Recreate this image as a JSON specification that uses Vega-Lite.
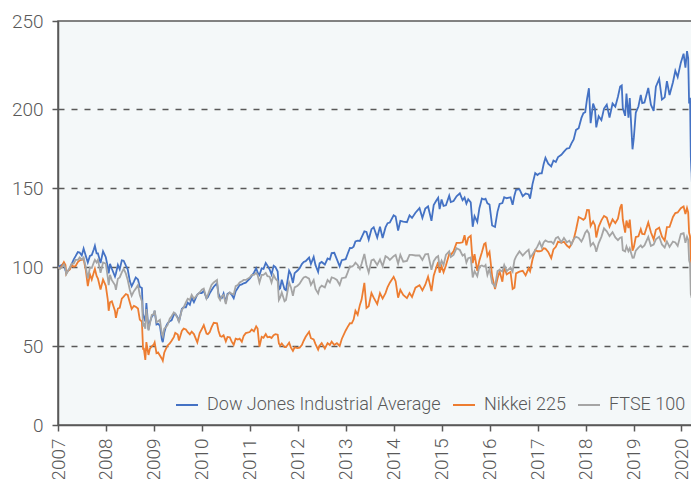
{
"$schema": "https://vega.github.io/schema/vega-lite/v6.json",
"width": 634, "height": 404,
"autosize": {"type": "none"},
"padding": {"left": 58, "top": 21, "right": 0, "bottom": 54},
"background": "white",
"config": {"view": {"fill": "#f4f8f9", "stroke": "#595959", "strokeWidth": 1.5}},
"data": {"values": [
{"d":"2007-01-02","D":100.0,"N":100.0,"F":100.0},
{"d":"2007-01-15","D":100.7,"N":99.1,"F":98.9},
{"d":"2007-02-01","D":101.6,"N":101.1,"F":100.0},
{"d":"2007-02-15","D":102.3,"N":103.2,"F":101.7},
{"d":"2007-02-27","D":97.9,"N":101.4,"F":99.4},
{"d":"2007-03-05","D":96.6,"N":95.9,"F":95.6},
{"d":"2007-03-15","D":97.5,"N":97.4,"F":97.1},
{"d":"2007-04-01","D":99.0,"N":98.5,"F":99.8},
{"d":"2007-04-15","D":102.0,"N":101.4,"F":102.2},
{"d":"2007-05-01","D":105.0,"N":100.3,"F":102.2},
{"d":"2007-05-15","D":107.0,"N":100.8,"F":104.6},
{"d":"2007-06-01","D":109.6,"N":103.2,"F":104.6},
{"d":"2007-06-15","D":109.3,"N":104.3,"F":106.2},
{"d":"2007-07-01","D":107.4,"N":104.6,"F":104.8},
{"d":"2007-07-15","D":111.8,"N":105.2,"F":106.2},
{"d":"2007-08-01","D":107.1,"N":98.0,"F":99.8},
{"d":"2007-08-16","D":103.0,"N":88.0,"F":92.9},
{"d":"2007-09-01","D":107.1,"N":95.5,"F":99.8},
{"d":"2007-09-15","D":107.7,"N":92.2,"F":99.5},
{"d":"2007-10-01","D":111.4,"N":96.8,"F":103.0},
{"d":"2007-10-09","D":113.6,"N":98.9,"F":104.6},
{"d":"2007-10-22","D":108.7,"N":94.5,"F":103.0},
{"d":"2007-11-01","D":108.7,"N":92.8,"F":104.6},
{"d":"2007-11-21","D":102.6,"N":85.9,"F":96.4},
{"d":"2007-12-10","D":110.1,"N":92.2,"F":103.0},
{"d":"2007-12-31","D":106.3,"N":88.2,"F":102.3},
{"d":"2008-01-15","D":100.2,"N":79.5,"F":93.5},
{"d":"2008-01-22","D":96.0,"N":72.4,"F":88.7},
{"d":"2008-02-01","D":102.1,"N":77.8,"F":95.1},
{"d":"2008-02-15","D":99.0,"N":78.4,"F":91.8},
{"d":"2008-03-10","D":94.1,"N":72.2,"F":88.7},
{"d":"2008-03-17","D":96.0,"N":67.9,"F":85.7},
{"d":"2008-04-01","D":101.4,"N":73.8,"F":92.7},
{"d":"2008-04-15","D":98.6,"N":74.3,"F":93.5},
{"d":"2008-05-01","D":104.3,"N":80.1,"F":96.7},
{"d":"2008-05-15","D":104.1,"N":81.3,"F":99.0},
{"d":"2008-06-01","D":101.0,"N":83.0,"F":95.9},
{"d":"2008-06-15","D":98.6,"N":82.4,"F":91.9},
{"d":"2008-07-01","D":91.2,"N":77.6,"F":85.6},
{"d":"2008-07-15","D":87.9,"N":73.5,"F":81.9},
{"d":"2008-08-01","D":90.8,"N":75.5,"F":84.8},
{"d":"2008-08-15","D":93.5,"N":74.9,"F":86.4},
{"d":"2008-09-01","D":92.2,"N":73.8,"F":88.7},
{"d":"2008-09-15","D":87.5,"N":66.8,"F":82.4},
{"d":"2008-10-01","D":86.8,"N":65.5,"F":78.4},
{"d":"2008-10-10","D":67.7,"N":47.7,"F":62.3},
{"d":"2008-10-15","D":68.8,"N":48.8,"F":64.7},
{"d":"2008-10-27","D":65.6,"N":41.3,"F":61.0},
{"d":"2008-11-04","D":77.2,"N":52.5,"F":73.5},
{"d":"2008-11-20","D":60.5,"N":44.4,"F":59.9},
{"d":"2008-12-01","D":65.3,"N":48.4,"F":64.3},
{"d":"2008-12-15","D":68.6,"N":49.9,"F":69.7},
{"d":"2008-12-31","D":70.4,"N":51.1,"F":70.3},
{"d":"2009-01-06","D":72.3,"N":52.3,"F":72.6},
{"d":"2009-01-20","D":63.7,"N":45.5,"F":65.0},
{"d":"2009-02-01","D":64.1,"N":46.0,"F":65.8},
{"d":"2009-02-15","D":62.9,"N":44.1,"F":66.6},
{"d":"2009-03-02","D":54.2,"N":42.0,"F":57.5},
{"d":"2009-03-09","D":52.5,"N":40.7,"F":56.1},
{"d":"2009-03-20","D":58.4,"N":45.8,"F":61.0},
{"d":"2009-04-01","D":62.2,"N":48.1,"F":61.8},
{"d":"2009-04-15","D":64.4,"N":50.4,"F":63.4},
{"d":"2009-05-01","D":65.8,"N":51.7,"F":67.4},
{"d":"2009-05-15","D":66.3,"N":53.4,"F":68.9},
{"d":"2009-06-01","D":69.9,"N":55.7,"F":71.3},
{"d":"2009-06-12","D":70.5,"N":58.4,"F":70.4},
{"d":"2009-07-01","D":68.1,"N":57.3,"F":67.4},
{"d":"2009-07-10","D":65.3,"N":53.5,"F":65.5},
{"d":"2009-08-01","D":73.5,"N":59.6,"F":72.9},
{"d":"2009-08-15","D":74.7,"N":61.1,"F":74.5},
{"d":"2009-09-01","D":74.6,"N":60.5,"F":77.7},
{"d":"2009-09-15","D":77.6,"N":58.8,"F":80.0},
{"d":"2009-10-01","D":76.2,"N":57.5,"F":79.2},
{"d":"2009-10-15","D":80.6,"N":59.1,"F":82.4},
{"d":"2009-11-01","D":77.8,"N":57.6,"F":80.0},
{"d":"2009-11-27","D":82.7,"N":52.3,"F":82.4},
{"d":"2009-12-15","D":83.8,"N":58.2,"F":84.0},
{"d":"2009-12-31","D":83.6,"N":60.8,"F":85.8},
{"d":"2010-01-15","D":85.1,"N":63.3,"F":86.4},
{"d":"2010-02-05","D":80.2,"N":57.9,"F":80.2},
{"d":"2010-02-15","D":81.0,"N":57.6,"F":82.4},
{"d":"2010-03-01","D":83.4,"N":58.8,"F":85.6},
{"d":"2010-03-15","D":85.4,"N":61.9,"F":88.7},
{"d":"2010-04-01","D":87.6,"N":64.8,"F":90.3},
{"d":"2010-04-26","D":89.8,"N":64.5,"F":91.9},
{"d":"2010-05-07","D":83.2,"N":59.7,"F":81.1},
{"d":"2010-05-20","D":80.7,"N":56.4,"F":79.1},
{"d":"2010-06-01","D":80.4,"N":55.9,"F":81.6},
{"d":"2010-06-15","D":83.4,"N":56.9,"F":82.4},
{"d":"2010-07-02","D":77.7,"N":53.0,"F":76.7},
{"d":"2010-07-15","D":83.1,"N":55.8,"F":82.4},
{"d":"2010-08-01","D":83.9,"N":55.6,"F":84.0},
{"d":"2010-08-15","D":82.6,"N":53.0,"F":83.2},
{"d":"2010-08-31","D":80.3,"N":50.8,"F":82.7},
{"d":"2010-09-15","D":84.7,"N":54.7,"F":88.0},
{"d":"2010-10-01","D":86.8,"N":54.2,"F":88.7},
{"d":"2010-10-15","D":88.7,"N":54.7,"F":90.3},
{"d":"2010-11-01","D":89.1,"N":52.7,"F":91.1},
{"d":"2010-11-15","D":89.8,"N":56.5,"F":91.9},
{"d":"2010-12-01","D":90.2,"N":58.2,"F":91.9},
{"d":"2010-12-31","D":92.8,"N":58.9,"F":93.5},
{"d":"2011-01-15","D":94.5,"N":60.5,"F":95.1},
{"d":"2011-02-01","D":96.5,"N":59.4,"F":95.1},
{"d":"2011-02-18","D":99.3,"N":62.5,"F":96.4},
{"d":"2011-03-01","D":96.7,"N":61.1,"F":95.1},
{"d":"2011-03-15","D":95.0,"N":49.6,"F":90.3},
{"d":"2011-04-01","D":99.2,"N":55.9,"F":95.1},
{"d":"2011-04-15","D":98.9,"N":55.3,"F":95.1},
{"d":"2011-05-02","D":102.7,"N":57.6,"F":96.4},
{"d":"2011-05-15","D":101.0,"N":55.6,"F":94.3},
{"d":"2011-06-01","D":98.5,"N":55.9,"F":94.0},
{"d":"2011-06-15","D":95.4,"N":55.1,"F":90.3},
{"d":"2011-07-01","D":100.9,"N":56.9,"F":95.1},
{"d":"2011-07-15","D":100.0,"N":57.6,"F":92.7},
{"d":"2011-08-01","D":97.2,"N":57.2,"F":91.1},
{"d":"2011-08-10","D":85.9,"N":51.7,"F":79.2},
{"d":"2011-08-20","D":86.7,"N":50.3,"F":80.8},
{"d":"2011-09-01","D":92.1,"N":51.6,"F":84.0},
{"d":"2011-09-22","D":86.0,"N":49.3,"F":78.4},
{"d":"2011-10-03","D":85.4,"N":49.3,"F":79.2},
{"d":"2011-10-27","D":97.8,"N":52.2,"F":90.3},
{"d":"2011-11-10","D":95.4,"N":49.0,"F":87.2},
{"d":"2011-11-25","D":90.0,"N":47.0,"F":81.8},
{"d":"2011-12-08","D":96.2,"N":49.2,"F":87.2},
{"d":"2011-12-30","D":97.9,"N":48.7,"F":88.3},
{"d":"2012-01-15","D":99.4,"N":49.0,"F":89.5},
{"d":"2012-02-01","D":102.0,"N":50.7,"F":91.9},
{"d":"2012-02-15","D":103.3,"N":53.4,"F":93.5},
{"d":"2012-03-01","D":103.8,"N":55.9,"F":94.0},
{"d":"2012-03-27","D":106.1,"N":59.1,"F":92.7},
{"d":"2012-04-10","D":102.0,"N":55.0,"F":88.7},
{"d":"2012-05-01","D":106.5,"N":54.2,"F":91.9},
{"d":"2012-05-15","D":101.3,"N":51.3,"F":86.2},
{"d":"2012-06-04","D":97.0,"N":47.8,"F":83.4},
{"d":"2012-06-15","D":102.4,"N":50.3,"F":86.8},
{"d":"2012-07-01","D":103.3,"N":51.9,"F":88.3},
{"d":"2012-07-25","D":101.7,"N":48.4,"F":87.2},
{"d":"2012-08-15","D":105.5,"N":51.9,"F":91.9},
{"d":"2012-09-01","D":104.9,"N":50.7,"F":90.3},
{"d":"2012-09-15","D":108.9,"N":52.8,"F":93.5},
{"d":"2012-10-05","D":109.1,"N":50.7,"F":93.0},
{"d":"2012-10-25","D":105.0,"N":51.9,"F":91.9},
{"d":"2012-11-15","D":100.5,"N":50.1,"F":88.7},
{"d":"2012-12-01","D":104.4,"N":54.5,"F":93.0},
{"d":"2012-12-31","D":105.1,"N":59.9,"F":93.5},
{"d":"2013-01-15","D":108.5,"N":62.2,"F":96.7},
{"d":"2013-02-01","D":112.2,"N":64.5,"F":100.6},
{"d":"2013-02-15","D":112.1,"N":64.4,"F":100.3},
{"d":"2013-03-01","D":113.0,"N":66.8,"F":101.1},
{"d":"2013-03-15","D":116.3,"N":72.4,"F":102.9},
{"d":"2013-04-01","D":116.8,"N":69.9,"F":101.4},
{"d":"2013-04-18","D":116.6,"N":76.1,"F":98.9},
{"d":"2013-05-01","D":118.9,"N":79.5,"F":102.2},
{"d":"2013-05-22","D":122.7,"N":90.1,"F":108.4},
{"d":"2013-06-07","D":122.3,"N":74.2,"F":101.4},
{"d":"2013-06-24","D":117.5,"N":75.3,"F":96.7},
{"d":"2013-07-15","D":124.1,"N":83.6,"F":104.3},
{"d":"2013-08-01","D":125.3,"N":80.7,"F":104.9},
{"d":"2013-08-28","D":118.8,"N":76.6,"F":101.4},
{"d":"2013-09-18","D":125.6,"N":83.6,"F":104.9},
{"d":"2013-10-08","D":118.5,"N":80.1,"F":100.6},
{"d":"2013-10-30","D":125.2,"N":83.6,"F":107.0},
{"d":"2013-11-15","D":127.9,"N":87.4,"F":106.2},
{"d":"2013-12-02","D":128.3,"N":90.2,"F":104.6},
{"d":"2013-12-31","D":132.9,"N":93.9,"F":107.0},
{"d":"2014-01-15","D":132.1,"N":91.1,"F":107.8},
{"d":"2014-02-03","D":123.2,"N":80.7,"F":102.2},
{"d":"2014-02-20","D":129.3,"N":85.6,"F":107.8},
{"d":"2014-03-14","D":128.8,"N":82.4,"F":103.5},
{"d":"2014-04-11","D":128.5,"N":80.4,"F":104.0},
{"d":"2014-05-01","D":132.8,"N":83.6,"F":107.8},
{"d":"2014-05-20","D":131.2,"N":81.1,"F":107.8},
{"d":"2014-06-15","D":134.5,"N":87.0,"F":107.4},
{"d":"2014-07-16","D":137.4,"N":88.6,"F":107.4},
{"d":"2014-08-07","D":131.2,"N":85.3,"F":104.6},
{"d":"2014-08-29","D":137.1,"N":88.9,"F":108.1},
{"d":"2014-09-19","D":138.5,"N":94.0,"F":108.4},
{"d":"2014-10-15","D":129.4,"N":84.9,"F":98.4},
{"d":"2014-11-01","D":139.4,"N":94.6,"F":103.8},
{"d":"2014-11-20","D":142.1,"N":99.7,"F":106.2},
{"d":"2014-12-05","D":144.0,"N":103.3,"F":107.0},
{"d":"2014-12-16","D":136.8,"N":96.5,"F":100.3},
{"d":"2014-12-31","D":142.9,"N":100.6,"F":104.1},
{"d":"2015-01-15","D":138.8,"N":96.8,"F":101.4},
{"d":"2015-02-02","D":139.2,"N":101.1,"F":107.8},
{"d":"2015-02-27","D":145.3,"N":108.3,"F":110.1},
{"d":"2015-03-11","D":141.3,"N":107.8,"F":106.5},
{"d":"2015-04-01","D":141.9,"N":110.1,"F":107.8},
{"d":"2015-04-24","D":144.9,"N":115.4,"F":112.0},
{"d":"2015-05-19","D":146.8,"N":115.4,"F":110.9},
{"d":"2015-06-09","D":142.4,"N":115.8,"F":107.3},
{"d":"2015-06-24","D":144.1,"N":120.3,"F":108.2},
{"d":"2015-07-08","D":140.3,"N":113.8,"F":102.9},
{"d":"2015-07-22","D":143.1,"N":118.7,"F":105.7},
{"d":"2015-08-10","D":141.1,"N":119.9,"F":106.2},
{"d":"2015-08-25","D":125.6,"N":102.6,"F":93.5},
{"d":"2015-09-08","D":132.3,"N":108.2,"F":97.5},
{"d":"2015-09-29","D":128.7,"N":97.6,"F":94.3},
{"d":"2015-10-15","D":137.4,"N":104.3,"F":100.5},
{"d":"2015-11-03","D":143.5,"N":109.5,"F":101.1},
{"d":"2015-11-20","D":142.9,"N":114.6,"F":100.3},
{"d":"2015-12-01","D":143.4,"N":115.3,"F":101.4},
{"d":"2015-12-15","D":140.5,"N":107.2,"F":95.1},
{"d":"2015-12-31","D":139.7,"N":109.7,"F":98.9},
{"d":"2016-01-20","D":126.4,"N":94.5,"F":89.9},
{"d":"2016-02-11","D":125.5,"N":86.2,"F":87.8},
{"d":"2016-03-01","D":135.2,"N":92.8,"F":97.5},
{"d":"2016-03-17","D":140.1,"N":97.4,"F":98.3},
{"d":"2016-04-07","D":140.6,"N":90.8,"F":97.3},
{"d":"2016-04-21","D":144.3,"N":100.0,"F":101.4},
{"d":"2016-05-10","D":143.7,"N":95.5,"F":97.5},
{"d":"2016-06-08","D":144.3,"N":97.0,"F":99.8},
{"d":"2016-06-24","D":139.5,"N":86.2,"F":97.3},
{"d":"2016-07-08","D":145.5,"N":87.0,"F":104.4},
{"d":"2016-07-20","D":149.0,"N":96.1,"F":106.7},
{"d":"2016-08-15","D":149.4,"N":97.2,"F":110.0},
{"d":"2016-09-09","D":145.0,"N":97.7,"F":107.4},
{"d":"2016-10-01","D":146.7,"N":94.8,"F":109.4},
{"d":"2016-10-24","D":146.1,"N":99.3,"F":111.1},
{"d":"2016-11-04","D":143.4,"N":97.4,"F":106.0},
{"d":"2016-11-22","D":152.5,"N":104.7,"F":108.1},
{"d":"2016-12-13","D":159.6,"N":110.9,"F":110.8},
{"d":"2016-12-30","D":158.4,"N":110.1,"F":113.2},
{"d":"2017-01-15","D":159.5,"N":110.1,"F":116.0},
{"d":"2017-02-01","D":159.5,"N":110.4,"F":112.5},
{"d":"2017-02-15","D":165.2,"N":112.0,"F":115.7},
{"d":"2017-03-01","D":169.3,"N":111.8,"F":117.0},
{"d":"2017-03-22","D":165.6,"N":109.7,"F":116.0},
{"d":"2017-04-14","D":163.9,"N":105.7,"F":116.2},
{"d":"2017-05-01","D":167.6,"N":111.3,"F":114.9},
{"d":"2017-05-19","D":166.7,"N":112.9,"F":118.4},
{"d":"2017-06-05","D":169.8,"N":116.2,"F":119.2},
{"d":"2017-06-30","D":171.2,"N":115.4,"F":115.8},
{"d":"2017-07-20","D":173.2,"N":116.1,"F":118.5},
{"d":"2017-08-11","D":175.2,"N":113.7,"F":115.8},
{"d":"2017-08-30","D":175.5,"N":112.4,"F":116.8},
{"d":"2017-09-15","D":178.5,"N":114.7,"F":114.4},
{"d":"2017-10-02","D":180.9,"N":117.6,"F":117.9},
{"d":"2017-10-20","D":187.0,"N":123.7,"F":119.2},
{"d":"2017-11-09","D":188.1,"N":131.8,"F":118.5},
{"d":"2017-11-30","D":194.6,"N":130.9,"F":116.2},
{"d":"2017-12-15","D":197.6,"N":130.0,"F":118.7},
{"d":"2017-12-29","D":198.2,"N":131.2,"F":121.8},
{"d":"2018-01-12","D":206.8,"N":136.3,"F":123.3},
{"d":"2018-01-26","D":213.4,"N":136.2,"F":121.4},
{"d":"2018-02-08","D":191.3,"N":126.1,"F":113.6},
{"d":"2018-02-27","D":203.7,"N":129.0,"F":115.4},
{"d":"2018-03-13","D":200.5,"N":126.6,"F":113.2},
{"d":"2018-03-23","D":188.6,"N":118.8,"F":109.7},
{"d":"2018-04-10","D":195.7,"N":125.6,"F":115.1},
{"d":"2018-05-01","D":193.2,"N":129.7,"F":119.2},
{"d":"2018-05-21","D":200.5,"N":132.5,"F":124.6},
{"d":"2018-06-11","D":203.0,"N":131.4,"F":122.7},
{"d":"2018-07-02","D":194.8,"N":125.7,"F":119.7},
{"d":"2018-07-25","D":203.7,"N":130.3,"F":122.2},
{"d":"2018-08-15","D":201.7,"N":127.9,"F":118.9},
{"d":"2018-09-04","D":208.0,"N":130.8,"F":117.1},
{"d":"2018-09-21","D":214.4,"N":137.6,"F":118.7},
{"d":"2018-10-03","D":215.1,"N":139.9,"F":119.0},
{"d":"2018-10-11","D":200.8,"N":130.2,"F":110.8},
{"d":"2018-10-29","D":195.9,"N":121.9,"F":110.0},
{"d":"2018-11-08","D":210.0,"N":129.6,"F":113.2},
{"d":"2018-11-23","D":194.7,"N":124.8,"F":110.1},
{"d":"2018-12-03","D":207.1,"N":130.1,"F":111.9},
{"d":"2018-12-24","D":174.7,"N":110.4,"F":105.9},
{"d":"2019-01-03","D":181.9,"N":112.7,"F":106.0},
{"d":"2019-01-18","D":198.0,"N":119.1,"F":110.5},
{"d":"2019-02-07","D":201.8,"N":119.6,"F":112.4},
{"d":"2019-02-25","D":209.2,"N":124.1,"F":113.8},
{"d":"2019-03-08","D":204.0,"N":121.1,"F":112.5},
{"d":"2019-03-25","D":204.4,"N":120.9,"F":113.8},
{"d":"2019-04-23","D":213.6,"N":128.3,"F":119.2},
{"d":"2019-05-13","D":203.0,"N":122.1,"F":113.5},
{"d":"2019-06-03","D":199.0,"N":117.6,"F":114.3},
{"d":"2019-06-20","D":214.4,"N":123.7,"F":117.6},
{"d":"2019-07-15","D":219.3,"N":125.0,"F":119.3},
{"d":"2019-08-05","D":206.2,"N":119.4,"F":114.4},
{"d":"2019-08-26","D":207.6,"N":116.8,"F":112.4},
{"d":"2019-09-12","D":217.9,"N":125.4,"F":116.3},
{"d":"2019-10-02","D":209.1,"N":125.5,"F":112.8},
{"d":"2019-10-28","D":217.2,"N":131.8,"F":116.2},
{"d":"2019-11-15","D":224.5,"N":134.3,"F":115.7},
{"d":"2019-12-03","D":220.5,"N":134.7,"F":113.5},
{"d":"2019-12-27","D":229.6,"N":137.4,"F":121.1},
{"d":"2020-01-17","D":235.3,"N":138.5,"F":121.6},
{"d":"2020-01-31","D":226.5,"N":133.7,"F":115.5},
{"d":"2020-02-12","D":236.9,"N":137.5,"F":119.3},
{"d":"2020-02-21","D":232.4,"N":134.8,"F":117.3},
{"d":"2020-02-28","D":203.7,"N":121.8,"F":104.3},
{"d":"2020-03-06","D":207.3,"N":119.6,"F":102.4},
{"d":"2020-03-12","D":170.0,"N":107.0,"F":83.0},
{"d":"2020-03-16","D":161.8,"N":98.0,"F":81.6},
{"d":"2020-03-18","D":159.5,"N":96.4,"F":80.5},
{"d":"2020-03-20","D":153.7,"N":95.4,"F":82.3}
]},
"transform": [{"fold": ["D", "N", "F"], "as": ["s", "v"]}],
"mark": {"type": "line", "strokeWidth": 1.8, "clip": true},
"encoding": {
  "x": {"field": "d", "type": "temporal",
    "scale": {"domain": ["2007-01-01", "2020-03-21"]},
    "axis": {"title": null, "format": "%Y", "tickCount": {"interval": "year", "step": 1},
      "labelAngle": -90, "labelFont": "Roboto", "labelFontWeight": 300, "labelFontSize": 19, "labelColor": "#595959",
      "labelPadding": 7, "tickSize": 6, "tickColor": "#595959", "tickWidth": 1.5,
      "domainColor": "#595959", "domainWidth": 1.5, "grid": false, "labelOverlap": false, "labelFlush": false}},
  "y": {"field": "v", "type": "quantitative",
    "scale": {"domain": [0, 256], "nice": false, "zero": true},
    "axis": {"title": null, "values": [0, 50, 100, 150, 200, 256],
      "labelExpr": "datum.value > 250 ? '250' : datum.label",
      "labelFont": "Roboto", "labelFontWeight": 300, "labelFontSize": 19, "labelColor": "#595959",
      "labelPadding": 9, "tickSize": 6, "tickColor": "#595959", "tickWidth": 1.5,
      "domainColor": "#595959", "domainWidth": 1.5,
      "grid": true, "gridColor": "#595959", "gridDash": [6, 7], "gridWidth": 1.3,
      "gridOpacity": {"condition": {"test": "datum.value == 0 || datum.value > 250", "value": 0}, "value": 1}}},
  "color": {"field": "s", "type": "nominal",
    "scale": {"domain": ["D", "N", "F"], "range": ["#4472c4", "#ed7d31", "#a5a5a5"]},
    "legend": {"title": null, "orient": "none", "legendX": 117, "legendY": 372, "direction": "horizontal",
      "symbolType": "stroke", "symbolSize": 484, "symbolStrokeWidth": 2,
      "labelExpr": "datum.value == 'D' ? 'Dow Jones Industrial Average' : datum.value == 'N' ? 'Nikkei 225' : 'FTSE 100'",
      "labelFont": "Roboto", "labelFontWeight": 300, "labelFontSize": 18, "labelColor": "#595959",
      "labelOffset": 8, "columnPadding": 8, "padding": 0, "labelLimit": 400}}
}
}
